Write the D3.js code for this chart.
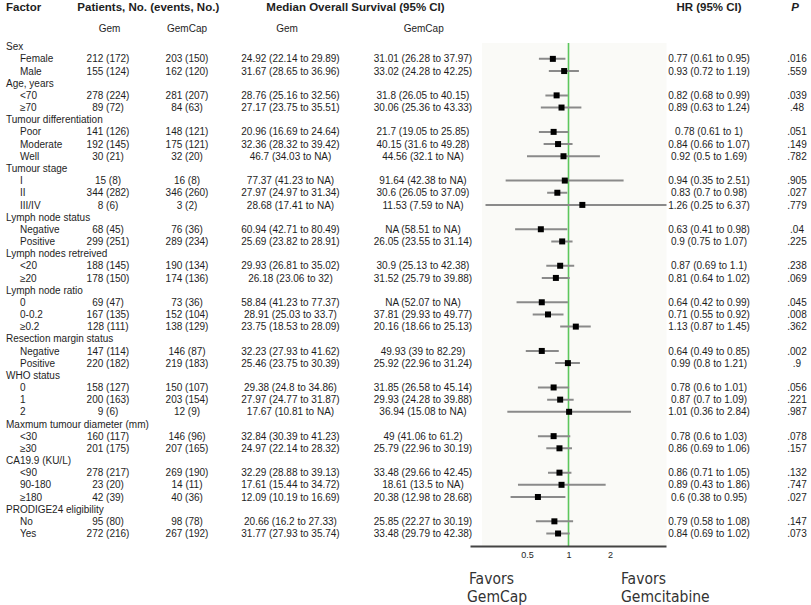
<!DOCTYPE html>
<html>
<head>
<meta charset="utf-8">
<script src="https://cdn.jsdelivr.net/npm/d3@7"></script>
<style>
  html, body { margin: 0; padding: 0; background: #ffffff; }
  svg { display: block; }
  text { font-family: "Liberation Sans", Arial, Helvetica, sans-serif; fill: #1e1e1e; }
</style>
</head>
<body>
<svg id="chart" width="811" height="605"></svg>
<script>
// ---------------- DATA ----------------
const groups = ["Sex", "Age, years", "Tumour differentiation", "Tumour stage", "Lymph node status",
  "Lymph nodes retreived", "Lymph node ratio", "Resection margin status", "WHO status",
  "Maxmum tumour diameter (mm)", "CA19.9 (KU/L)", "PRODIGE24 eligibility"];

const subgroups = ["Female", "Male", "<70", "≥70", "Poor", "Moderate", "Well", "I", "II", "III/IV",
  "Negative", "Positive", "<20", "≥20", "0", "0-0.2", "≥0.2", "Negative", "Positive",
  "0", "1", "2", "<30", "≥30", "<90", "90-180", "≥180", "No", "Yes"];

const subgroupGroup = [0, 0, 1, 1, 2, 2, 2, 3, 3, 3, 4, 4, 5, 5, 6, 6, 6, 7, 7, 8, 8, 8, 9, 9, 10, 10, 10, 11, 11];

const gemPatients = [212, 155, 278, 89, 141, 192, 30, 15, 344, 8, 68, 299, 188, 178, 69, 167, 128, 147, 220, 158, 200, 9, 160, 201, 278, 23, 42, 95, 272];
const gemEvents   = [172, 124, 224, 72, 126, 145, 21, 8, 282, 6, 45, 251, 145, 150, 47, 135, 111, 114, 182, 127, 163, 6, 117, 175, 217, 20, 39, 80, 216];
const capPatients = [203, 162, 281, 84, 148, 175, 32, 16, 346, 3, 76, 289, 190, 174, 73, 152, 138, 146, 219, 150, 203, 12, 146, 207, 269, 14, 40, 98, 267];
const capEvents   = [150, 120, 207, 63, 121, 121, 20, 8, 260, 2, 36, 234, 134, 136, 36, 104, 129, 87, 183, 107, 154, 9, 96, 165, 190, 11, 36, 78, 192];

// Median overall survival (months); null = NA
const gemMedian = [24.92, 31.67, 28.76, 27.17, 20.96, 32.36, 46.7, 77.37, 27.97, 28.68, 60.94, 25.69, 29.93, 26.18, 58.84, 28.91, 23.75, 32.23, 25.46, 29.38, 27.97, 17.67, 32.84, 24.97, 32.29, 17.61, 12.09, 20.66, 31.77];
const gemLow    = [22.14, 28.65, 25.16, 23.75, 16.69, 28.32, 34.03, 41.23, 24.97, 17.41, 42.71, 23.82, 26.81, 23.06, 41.23, 25.03, 18.53, 27.93, 23.75, 24.8, 24.77, 10.81, 30.39, 22.14, 28.88, 15.44, 10.19, 16.2, 27.93];
const gemHigh   = [29.89, 36.96, 32.56, 35.51, 24.64, 39.42, null, null, 31.34, null, 80.49, 28.91, 35.02, 32, 77.37, 33.7, 28.09, 41.62, 30.39, 34.86, 31.87, null, 41.23, 28.32, 39.13, 34.72, 16.69, 27.33, 35.74];

const capMedian = [31.01, 33.02, 31.8, 30.06, 21.7, 40.15, 44.56, 91.64, 30.6, 11.53, null, 26.05, 30.9, 31.52, null, 37.81, 20.16, 49.93, 25.92, 31.85, 29.93, 36.94, 49, 25.79, 33.48, 18.61, 20.38, 25.85, 33.48];
const capLow    = [26.28, 24.28, 26.05, 25.36, 19.05, 31.6, 32.1, 42.38, 26.05, 7.59, 58.51, 23.55, 25.13, 25.79, 52.07, 29.93, 18.66, 39, 22.96, 26.58, 24.28, 15.08, 41.06, 22.96, 29.66, 13.5, 12.98, 22.27, 29.79];
const capHigh   = [37.97, 42.25, 40.15, 43.33, 25.85, 49.28, null, null, 37.09, null, null, 31.14, 42.38, 39.88, null, 49.77, 25.13, 82.29, 31.24, 45.14, 39.88, null, 61.2, 30.19, 42.45, null, 28.68, 30.19, 42.38];

// Hazard ratios (GemCap vs Gem)
const hr     = [0.77, 0.93, 0.82, 0.89, 0.78, 0.84, 0.92, 0.94, 0.83, 1.26, 0.63, 0.9, 0.87, 0.81, 0.64, 0.71, 1.13, 0.64, 0.99, 0.78, 0.87, 1.01, 0.78, 0.86, 0.86, 0.89, 0.6, 0.79, 0.84];
const hrLow  = [0.61, 0.72, 0.68, 0.63, 0.61, 0.66, 0.5, 0.35, 0.7, 0.25, 0.41, 0.75, 0.69, 0.64, 0.42, 0.55, 0.87, 0.49, 0.8, 0.6, 0.7, 0.36, 0.6, 0.69, 0.71, 0.43, 0.38, 0.58, 0.69];
const hrHigh = [0.95, 1.19, 0.99, 1.24, 1, 1.07, 1.69, 2.51, 0.98, 6.37, 0.98, 1.07, 1.1, 1.02, 0.99, 0.92, 1.45, 0.85, 1.21, 1.01, 1.09, 2.84, 1.03, 1.06, 1.05, 1.86, 0.95, 1.08, 1.02];
const pValues = [".016", ".559", ".039", ".48", ".051", ".149", ".782", ".905", ".027", ".779", ".04", ".225", ".238", ".069", ".045", ".008", ".362", ".002", ".9", ".056", ".221", ".987", ".078", ".157", ".132", ".747", ".027", ".147", ".073"];

const tickValues = [0.5, 1, 2];
const favorsLeft = ["Favors", "GemCap"];
const favorsRight = ["Favors", "Gemcitabine"];

// ---------------- LAYOUT ----------------
const svg = d3.select("#chart");
const rowY0 = 46.7, rowStep = 12.17;
const col = { factor: 6, sub: 20, gemN: 108, capN: 187, gemMed: 290.5, capMed: 423, hr: 709, p: 797 };
const panel = { left: 482, right: 666.5, top: 43, bottom: 546 };

// build rows: group header followed by its subgroups
const rows = [];
groups.forEach((g, gi) => {
  rows.push({ type: "group", label: g });
  subgroups.forEach((s, si) => {
    if (subgroupGroup[si] === gi) rows.push({ type: "sub", label: s, i: si });
  });
});
const y = d3.scaleLinear().domain([0, 1]).range([rowY0, rowY0 + rowStep]);

const fmt = v => (v === null ? "NA" : String(v));
const ciText = (m, l, h) => `${fmt(m)} (${fmt(l)} to ${fmt(h)})`;

// HR scale (log)
const x = d3.scaleLog().domain([0.5, 2]).range([527, 610]);
const axisScale = x.copy().domain([x.invert(470), x.invert(666)]).range([470, 666]);

// ---------------- HEADERS ----------------
const hdr = svg.append("g").attr("font-weight", "bold").attr("font-size", "11.5px");
hdr.append("text").attr("x", col.factor).attr("y", 11).text("Factor");
hdr.append("text").attr("x", 148.3).attr("y", 11).attr("text-anchor", "middle").text("Patients, No. (events, No.)");
hdr.append("text").attr("x", 355.5).attr("y", 11).attr("text-anchor", "middle").text("Median Overall Survival (95% CI)");
hdr.append("text").attr("x", 709).attr("y", 11).attr("text-anchor", "middle").text("HR (95% CI)");
hdr.append("text").attr("x", 795).attr("y", 11).attr("text-anchor", "middle").attr("font-style", "italic").text("P");

const sub = svg.append("g").attr("font-size", "10px").attr("text-anchor", "middle");
sub.append("text").attr("x", 109.5).attr("y", 32).text("Gem");
sub.append("text").attr("x", 187).attr("y", 32).text("GemCap");
sub.append("text").attr("x", 287).attr("y", 32).text("Gem");
sub.append("text").attr("x", 423.7).attr("y", 32).text("GemCap");

// ---------------- PANEL ----------------
svg.append("rect")
  .attr("x", panel.left).attr("y", panel.top)
  .attr("width", panel.right - panel.left).attr("height", panel.bottom - panel.top)
  .attr("fill", "#fafaf7");

svg.append("defs").append("clipPath").attr("id", "pclip")
  .append("rect").attr("x", panel.left).attr("y", panel.top)
  .attr("width", panel.right - panel.left).attr("height", panel.bottom - panel.top);

// reference line at HR = 1
svg.append("line")
  .attr("x1", x(1)).attr("x2", x(1))
  .attr("y1", panel.top).attr("y2", panel.bottom)
  .attr("stroke", "#5cc75c").attr("stroke-width", 1.6);

// ---------------- ROWS ----------------
const body = svg.append("g").attr("font-size", "10px");
const marks = svg.append("g").attr("clip-path", "url(#pclip)");

rows.forEach((r, ri) => {
  const cy = y(ri);
  const by = cy + 3.6;
  if (r.type === "group") {
    body.append("text").attr("x", col.factor).attr("y", by).text(r.label);
    return;
  }
  const i = r.i;
  body.append("text").attr("x", col.sub).attr("y", by).text(r.label);
  body.append("text").attr("x", col.gemN).attr("y", by).attr("text-anchor", "middle")
    .text(`${gemPatients[i]} (${gemEvents[i]})`);
  body.append("text").attr("x", col.capN).attr("y", by).attr("text-anchor", "middle")
    .text(`${capPatients[i]} (${capEvents[i]})`);
  body.append("text").attr("x", col.gemMed).attr("y", by).attr("text-anchor", "middle")
    .text(ciText(gemMedian[i], gemLow[i], gemHigh[i]));
  body.append("text").attr("x", col.capMed).attr("y", by).attr("text-anchor", "middle")
    .text(ciText(capMedian[i], capLow[i], capHigh[i]));
  body.append("text").attr("x", col.hr).attr("y", by).attr("text-anchor", "middle")
    .text(ciText(hr[i], hrLow[i], hrHigh[i]));
  body.append("text").attr("x", col.p).attr("y", by).attr("text-anchor", "middle")
    .text(pValues[i]);

  marks.append("line")
    .attr("x1", x(hrLow[i])).attr("x2", x(hrHigh[i]))
    .attr("y1", cy).attr("y2", cy)
    .attr("stroke", "#8a8a8a").attr("stroke-width", 2);
  marks.append("rect")
    .attr("x", x(hr[i]) - 3).attr("y", cy - 3)
    .attr("width", 6).attr("height", 6)
    .attr("fill", "#000");
});

// ---------------- AXIS ----------------
const axisG = svg.append("g")
  .attr("transform", `translate(0,${panel.bottom})`)
  .call(d3.axisBottom(axisScale).tickValues(tickValues).tickSize(0).tickPadding(6)
    .tickFormat(d => String(d)));
axisG.select(".domain").attr("stroke", "#444").attr("stroke-width", 2);
axisG.selectAll(".tick text")
  .attr("font-size", "9px")
  .attr("font-family", "\"Liberation Sans\", Arial, sans-serif")
  .attr("fill", "#333");

// ---------------- FAVORS LABELS ----------------
const fav = svg.append("g")
  .attr("font-size", "15.5px");
fav.selectAll("text.l").data(favorsLeft).join("text")
  .attr("x", (d, i) => i === 0 ? 469 : 467)
  .attr("y", (d, i) => 584 + i * 17.5)
  .style("font-family", "\"Liberation Sans Narrow\", \"Arial Narrow\", \"DejaVu Sans Condensed\", sans-serif")
  .style("fill", "#333")
  .text(d => d);
fav.selectAll("text.r").data(favorsRight).join("text")
  .attr("x", 621)
  .attr("y", (d, i) => 584 + i * 17.5)
  .style("font-family", "\"Liberation Sans Narrow\", \"Arial Narrow\", \"DejaVu Sans Condensed\", sans-serif")
  .style("fill", "#333")
  .text(d => d);
</script>
</body>
</html>
